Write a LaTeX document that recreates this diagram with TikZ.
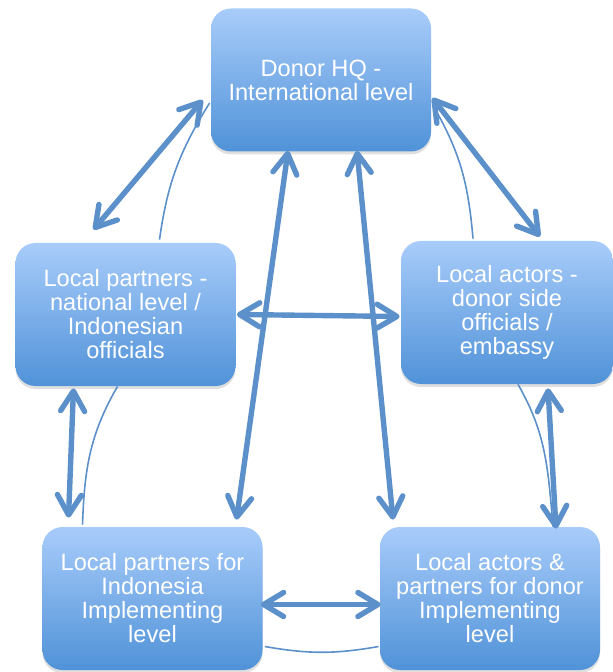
\documentclass[tikz,border=0pt]{standalone}
\usepackage{fontspec}
\setmainfont{Liberation Sans}
\usetikzlibrary{positioning,arrows.meta,shadows}

\definecolor{boxtop}{RGB}{168,204,250}
\definecolor{boxbottom}{RGB}{80,146,216}
\definecolor{linkblue}{RGB}{92,144,202}

\begin{document}
\begin{tikzpicture}[
    x=0.5pt, y=-0.5pt,
    every node/.style={font=\fontsize{11.8}{12}\selectfont, align=center},
    box/.style={rectangle, rounded corners=10pt, top color=boxtop, bottom color=boxbottom,
                text=white, minimum width=110pt, minimum height=71.5pt, inner sep=2pt,
                drop shadow={shadow xshift=0pt, shadow yshift=-1.5pt, opacity=0.25}},
    arrow/.style={{Straight Barb[length=10pt,width=12pt,round]}-{Straight Barb[length=10pt,width=12pt,round]},
                  line width=2.7pt, draw=linkblue},
    link/.style={draw=linkblue, line width=0.8pt}
]
\useasboundingbox (0,0) rectangle (613,672);

\node[box] (hq) at (321,80) {Donor HQ -\\International level};
\node[box] (lpn) at (125.5,314.5) {Local partners -\\national level /\\Indonesian\\officials};
\node[box, minimum width=106pt] (lad) at (507,312.5) {Local actors -\\donor side\\officials /\\embassy};
\node[box] (lpi) at (152.5,598.5) {Local partners for\\Indonesia\\Implementing\\level};
\node[box] (lai) at (490,598.5) {Local actors \&\\partners for donor\\Implementing\\level};

% thin cycle links
\draw[link] ([xshift=17pt,yshift=1.5pt]lpn.north) to[out=82,in=238] ([xshift=-0.5pt,yshift=-11.5pt]hq.west);
\draw[link] ([xshift=-17pt,yshift=1pt]lad.north) to[out=95,in=-60] ([xshift=1.5pt,yshift=-14pt]hq.east);
\draw[link] ([xshift=-4pt]lpn.south) to[out=240,in=88] ([xshift=-35pt,yshift=1pt]lpi.north);
\draw[link] ([xshift=5.5pt]lad.south) to[out=-60,in=95] ([xshift=31.5pt]lai.north);
\draw[link] ([xshift=1pt,yshift=-24pt]lpi.east) to[bend right=10] ([xshift=-0.5pt,yshift=-24pt]lai.west);

% two-way arrows
\draw[arrow] ([xshift=-4pt,yshift=-10pt]hq.west) -- ([xshift=-16pt,yshift=6.5pt]lpn.north);
\draw[arrow] ([xshift=0.5pt,yshift=-9pt]hq.east) -- ([xshift=16.5pt,yshift=2pt]lad.north);
\draw[arrow] ([xshift=-16.5pt,yshift=0.5pt]hq.south) -- ([xshift=42pt,yshift=3.5pt]lpi.north);
\draw[arrow] ([xshift=18pt,yshift=0.5pt]hq.south) -- ([xshift=-48.5pt,yshift=3.5pt]lai.north);
\draw[arrow] ([xshift=0.5pt]lpn.east) -- ([xshift=-0.5pt,yshift=-2pt]lad.west);
\draw[arrow] ([xshift=-26pt,yshift=-1pt]lpn.south) -- ([xshift=-42pt,yshift=4.5pt]lpi.north);
\draw[arrow] ([xshift=20.5pt,yshift=-2pt]lad.south) -- ([xshift=33pt,yshift=-1pt]lai.north);
\draw[arrow] ([xshift=-1pt,yshift=-3pt]lpi.east) -- ([xshift=0.5pt,yshift=-3pt]lai.west);

\end{tikzpicture}
\end{document}
